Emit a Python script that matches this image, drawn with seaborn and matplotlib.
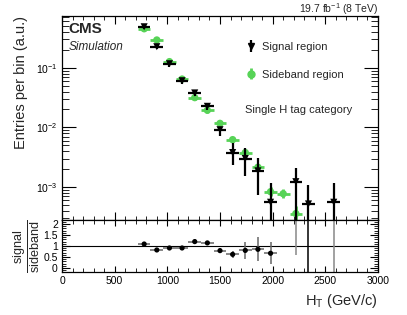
import numpy as np
import pandas as pd
import seaborn as sns
import matplotlib
matplotlib.use("Agg")
import matplotlib.pyplot as plt
from matplotlib.ticker import LogLocator, MultipleLocator, NullFormatter, FixedLocator

# bin centres (GeV), 120 GeV wide bins
ht = [780, 900, 1020, 1140, 1260, 1380, 1500, 1620, 1740, 1860, 1980, 2100, 2220, 2340, 2460, 2580]

# signal region (black)
sig = [0.488, 0.226, 0.117, 0.0607, 0.0379, 0.0226, 0.00916, 0.00379, 0.00301, 0.00187,
       0.000556, np.nan, 0.00123, 0.000521, np.nan, 0.000556]
sig_lo = [0.44, 0.203, 0.105, 0.054, 0.034, 0.0198, 0.0072, 0.00233, 0.00153, 0.000735,
          1e-5, np.nan, 1e-5, 1e-5, np.nan, 1e-5]
sig_hi = [0.54, 0.252, 0.13, 0.068, 0.0425, 0.0258, 0.0102, 0.0054, 0.00447, 0.00304,
          0.00117, np.nan, 0.0021, 0.00108, np.nan, 0.00115]

# sideband region (green)
side = [0.452, 0.293, 0.127, 0.0648, 0.0316, 0.0194, 0.0117, 0.00624, 0.00379, 0.00215,
        0.000835, 0.000773, 0.000359, np.nan, np.nan, np.nan]
side_lo = [0.425, 0.272, 0.118, 0.060, 0.0292, 0.0178, 0.0106, 0.0056, 0.0034, 0.0019,
           0.0007, 0.00065, 0.00025, np.nan, np.nan, np.nan]
side_hi = [0.48, 0.315, 0.137, 0.070, 0.0342, 0.021, 0.0128, 0.0069, 0.0042, 0.0024,
           0.001, 0.00092, 0.00048, np.nan, np.nan, np.nan]

# ratio panel
ratio_ht = [780, 900, 1020, 1140, 1260, 1380, 1500, 1620, 1740, 1860, 1980]
ratio = [1.09, 0.82, 0.91, 0.91, 1.2, 1.14, 0.79, 0.62, 0.80, 0.85, 0.67]
ratio_err = [0.1, 0.08, 0.07, 0.05, 0.1, 0.1, 0.12, 0.15, 0.4, 0.55, 0.5]
# bins where the ratio is off scale: only the error line is visible
off_ht = [2220, 2340, 2580]
off_lo = [0.6, -1, -1]
off_col = ["#888888", "black", "#888888"]

green = "#57d357"

df_sig = pd.DataFrame({"ht": ht, "val": sig, "lo": sig_lo, "hi": sig_hi}).dropna()
df_side = pd.DataFrame({"ht": ht, "val": side, "lo": side_lo, "hi": side_hi}).dropna()
df_ratio = pd.DataFrame({"ht": ratio_ht, "val": ratio, "err": ratio_err})

sns.set_theme(style="ticks")
plt.rcParams["font.family"] = ["Liberation Sans", "DejaVu Sans"]
plt.rcParams["mathtext.fontset"] = "custom"
plt.rcParams["mathtext.rm"] = "Liberation Sans"
plt.rcParams["mathtext.it"] = "Liberation Sans:italic"
plt.rcParams["mathtext.bf"] = "Liberation Sans:bold"

fig = plt.figure(figsize=(4.07, 3.15), dpi=100)
W, H = 407, 315
x0, x1 = 62, 378
ax = fig.add_axes([x0 / W, (H - 220) / H, (x1 - x0) / W, 204 / H])
axr = fig.add_axes([x0 / W, (H - 272) / H, (x1 - x0) / W, 52 / H], sharex=ax)

# --- top panel
ax.errorbar(df_side["ht"], df_side["val"], xerr=60,
            yerr=[df_side["val"] - df_side["lo"], df_side["hi"] - df_side["val"]],
            fmt="none", ecolor=green, elinewidth=2, capsize=0, zorder=2)
sns.scatterplot(data=df_side, x="ht", y="val", ax=ax, marker="o", s=28, color=green,
                edgecolor="none", zorder=3, legend=False)
ax.errorbar(df_sig["ht"], df_sig["val"], xerr=60,
            yerr=[df_sig["val"] - df_sig["lo"], df_sig["hi"] - df_sig["val"]],
            fmt="none", ecolor="black", elinewidth=1.6, capsize=0, zorder=4)
sns.scatterplot(data=df_sig, x="ht", y="val", ax=ax, marker="v", s=26, color="black",
                edgecolor="none", zorder=5, legend=False)

ax.set_yscale("log")
ax.set_ylim(2.8e-4, 0.74)
ax.set_xlim(0, 3000)
ax.yaxis.set_major_locator(LogLocator(base=10, numticks=10))
ax.yaxis.set_minor_locator(LogLocator(base=10, subs=np.arange(2, 10), numticks=20))
ax.yaxis.set_minor_formatter(NullFormatter())
ax.tick_params(axis="x", labelbottom=False)
ax.set_xlabel("")
ax.set_ylabel("Entries per bin (a.u.)", loc="top", fontsize=10.5, labelpad=6)

# legend with proxy handles (vertical bar + marker only)
h_sig = ax.errorbar([np.nan], [np.nan], yerr=[1], fmt="v", color="black", ms=5, elinewidth=1.6)
h_side = ax.errorbar([np.nan], [np.nan], yerr=[1], fmt="o", color=green, ms=5, elinewidth=2)
leg = ax.legend([h_sig, h_side], ["Signal region", "Sideband region"], loc="upper left",
                bbox_to_anchor=(0.57, 0.895), frameon=False, fontsize=8, labelspacing=1.6,
                handlelength=0.8, handletextpad=0.6, borderaxespad=0)

ax.text(0.02, 0.97, "CMS", transform=ax.transAxes, fontsize=11, fontweight="bold",
        va="top", ha="left")
ax.text(0.02, 0.875, "Simulation", transform=ax.transAxes, fontsize=8.5, style="italic",
        va="top", ha="left")
ax.text(0.58, 0.54, "Single H tag category", transform=ax.transAxes, fontsize=8,
        va="center", ha="left")
fig.text(x1 / W, 1 - 9 / H, r"19.7 fb$^{-1}$ (8 TeV)", fontsize=7.5, ha="right", va="center")

# --- ratio panel
axr.axhline(1, color="black", lw=0.8, zorder=1)
axr.errorbar(df_ratio["ht"], df_ratio["val"], xerr=60, yerr=df_ratio["err"], fmt="none",
             ecolor="#666666", elinewidth=1.1, capsize=0, zorder=2)
sns.scatterplot(data=df_ratio, x="ht", y="val", ax=axr, marker="o", s=14, color="black",
                edgecolor="none", zorder=3, legend=False)
axr.vlines(off_ht, off_lo, 5, colors=off_col, lw=1.1, zorder=2)
axr.set_ylim(-0.18, 2.18)
axr.yaxis.set_major_locator(FixedLocator([0, 0.5, 1, 1.5, 2]))
axr.yaxis.set_minor_locator(MultipleLocator(0.1))
axr.set_yticklabels(["0", "0.5", "1", "1.5", "2"])
axr.xaxis.set_major_locator(MultipleLocator(500))
axr.xaxis.set_minor_locator(MultipleLocator(100))
axr.set_ylabel(r"$\frac{\mathrm{signal}}{\mathrm{sideband}}$", fontsize=13, labelpad=1)
axr.set_xlabel(r"H$_{\mathrm{T}}$ (GeV/c)", loc="right", fontsize=10.5, labelpad=4)

for a in (ax, axr):
    a.tick_params(which="both", direction="in", top=True, right=True, labelsize=7.5,
                  colors="black", pad=3)
    a.tick_params(which="major", length=6, width=0.8)
    a.tick_params(which="minor", length=3, width=0.6)
    for s in a.spines.values():
        s.set_linewidth(0.9)
        s.set_color("black")
    a.set_facecolor("white")
ax.tick_params(axis="y", which="major", length=10)
ax.tick_params(axis="y", which="minor", length=5)
axr.tick_params(axis="x", which="major", length=4)

fig.savefig("out.png", dpi=100)
